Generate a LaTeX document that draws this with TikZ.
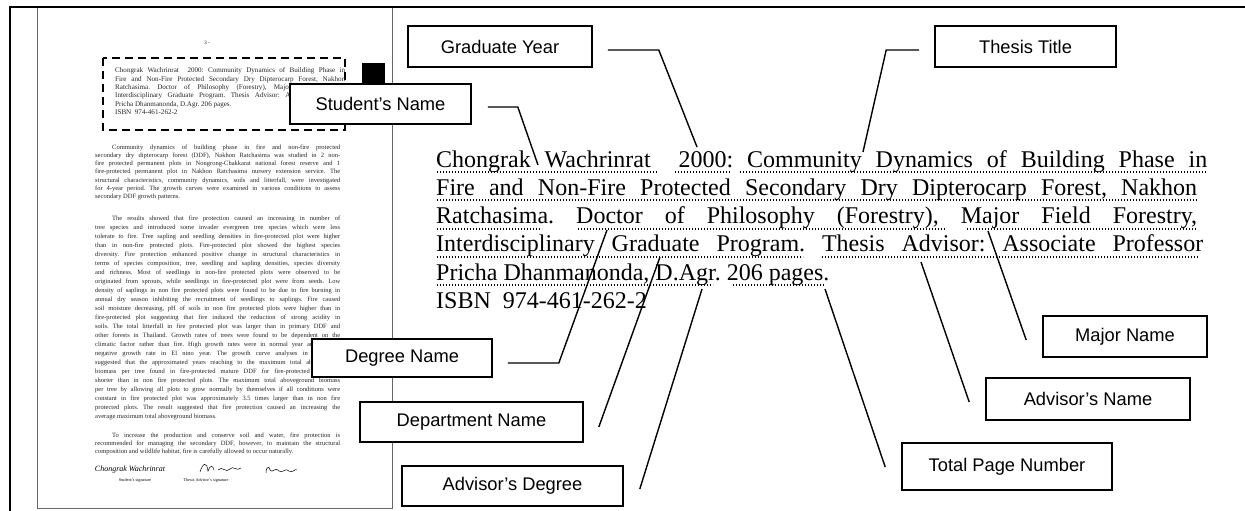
\documentclass[tikz,border=0pt]{standalone}
\usepackage{fontspec}
\setmainfont{Liberation Serif}
\newfontfamily\boxfont{Liberation Sans}
\usepackage{tikz}
\frenchspacing

\tikzset{
	fieldbox/.style={draw, fill=white, line width=1.6pt, inner sep=0pt, font=\boxfont\fontsize{18.3}{22}\selectfont},
	pointer/.style={line width=1.4pt},
	fieldline/.style={line width=1.2pt, dash pattern=on 1.1pt off 1.9pt},
	absline/.style={anchor=base west, inner sep=0pt, font=\fontsize{24}{28}\selectfont},
	pagetext/.style={anchor=base west, inner sep=0pt, align=justify, text width=245pt, text=black!85},
}

\begin{document}
\begin{tikzpicture}[x=1pt,y=1pt,yscale=-1,xscale=1]
	\useasboundingbox (0,0) rectangle (1245,511);
	
	%Shape: Rectangle [page]
	\draw [color=black!60, line width=1pt] (37,7) rectangle (392,508);
	%Straight Lines [frame]
	\draw [line width=2.5pt] (10,511) -- (10,7) -- (1245,7);
	%Shape: Rectangle [dashed abstract head]
	\draw [line width=1.6pt, dash pattern=on 8pt off 5pt] (103,58) rectangle (345,130);
	%Shape: Rectangle [black mark]
	\fill (362,63) rectangle (385,95);
	
	% Text Node
	\node (pgno) [inner sep=0pt, font=\fontsize{5}{6}\selectfont] at (207,43) {3 -};
	% Text Node
	\node (pghead) [pagetext, text width=230pt, font=\fontsize{7.1}{8.3}\selectfont] at (115,73) {Chongrak Wachrinrat\ \ 2000: Community Dynamics of Building Phase in\linebreak Fire and Non-Fire Protected Secondary Dry Dipterocarp Forest, Nakhon\linebreak Ratchasima. Doctor of Philosophy (Forestry), Major Field Forestry,\linebreak Interdisciplinary Graduate Program. Thesis Advisor: Associate Professor\linebreak Pricha Dhanmanonda, D.Agr. 206 pages.\newline ISBN\ \ 974-461-262-2};
	% Text Node
	\node (pgpara1) [pagetext, font=\fontsize{6.5}{8.33}\selectfont] at (95,149) {\hspace*{17pt}Community dynamics of building phase in fire and non-fire protected\linebreak secondary dry dipterocarp forest (DDF), Nakhon Ratchasima was studied in 2 non-\linebreak fire protected permanent plots in Nongrong-Chakkarat national forest reserve and 1\linebreak fire-protected permanent plot in Nakhon Ratchasima nursery extension service. The\linebreak structural characteristics, community dynamics, soils and litterfall, were investigated\linebreak for 4-year period. The growth curves were examined in various conditions to assess\linebreak secondary DDF growth patterns.};
	% Text Node
	\node (pgpara2) [pagetext, font=\fontsize{6.5}{9}\selectfont] at (95,220) {\hspace*{17pt}The results showed that fire protection caused an increasing in number of\linebreak tree species and introduced some invader evergreen tree species which were less\linebreak tolerate to fire. Tree sapling and seedling densities in fire-protected plot were higher\linebreak than in non-fire protected plots. Fire-protected plot showed the highest species\linebreak diversity. Fire protection enhanced positive change in structural characteristics in\linebreak terms of species composition, tree, seedling and sapling densities, species diversity\linebreak and richness. Most of seedlings in non-fire protected plots were observed to be\linebreak originated from sprouts, while seedlings in fire-protected plot were from seeds. Low\linebreak density of saplings in non fire protected plots were found to be due to fire burning in\linebreak annual dry season inhibiting the recruitment of seedlings to saplings. Fire caused\linebreak soil moisture decreasing, pH of soils in non fire protected plots were higher than in\linebreak fire-protected plot suggesting that fire induced the reduction of strong acidity in\linebreak soils. The total litterfall in fire protected plot was larger than in primary DDF and\linebreak other forests in Thailand. Growth rates of trees were found to be dependent on the\linebreak climatic factor rather than fire. High growth rates were in normal year and showed\linebreak negative growth rate in El nino year. The growth curve analyses in each plot\linebreak suggested that the approximated years reaching to the maximum total aboveground\linebreak biomass per tree found in fire-protected mature DDF for fire-protected plot was\linebreak shorter than in non fire protected plots. The maximum total aboveground biomass\linebreak per tree by allowing all plots to grow normally by themselves if all conditions were\linebreak constant in fire protected plot was approximately 3.5 times larger than in non fire\linebreak protected plots. The result suggested that fire protection caused an increasing the\linebreak average maximum total aboveground biomass.};
	% Text Node
	\node (pgpara3) [pagetext, font=\fontsize{6.5}{8.33}\selectfont] at (95,437) {\hspace*{17pt}To increase the production and conserve soil and water, fire protection is\linebreak recommended for managing the secondary DDF, however, to maintain the structural\linebreak composition and wildlife habitat, fire is carefully allowed to occur naturally.};
	% Text Node
	\node (stusig) [inner sep=0pt, font=\itshape\fontsize{8}{9}\selectfont] at (130,470) {Chongrak Wachrinrat};
	%Curve Lines [advisor signature]
	\draw [line width=0.5pt] (200,472) .. controls (203,462) and (207,462) .. (208,471) .. controls (210,465) and (213,465) .. (214,470);
	\draw [line width=0.5pt] (218,470) .. controls (222,465) and (226,474) .. (230,469) .. controls (233,465) and (237,472) .. (241,468);
	%Curve Lines [date]
	\draw [line width=0.5pt] (266,473) .. controls (266,466) and (270,466) .. (270,470) .. controls (272,474) and (276,466) .. (279,471) .. controls (282,474) and (286,467) .. (289,471) .. controls (292,474) and (295,468) .. (297,470);
	% Text Node
	\node (stulab) [inner sep=0pt, font=\fontsize{4.2}{5}\selectfont] at (135,480) {Student’s signature};
	% Text Node
	\node (advlab) [inner sep=0pt, font=\fontsize{4.2}{5}\selectfont] at (206,480) {Thesis Advisor’s signature};
	
	% Text Node
	\node (absline1) [absline] at (436,167) {\makebox[771pt][s]{Chongrak Wachrinrat\ \ 2000: Community Dynamics of Building Phase in}};
	% Text Node
	\node (absline2) [absline] at (436,195.3) {\makebox[761pt][s]{Fire and Non-Fire Protected Secondary Dry Dipterocarp Forest, Nakhon}};
	% Text Node
	\node (absline3) [absline] at (436,223.6) {\makebox[761pt][s]{Ratchasima. Doctor of Philosophy (Forestry), Major Field Forestry,}};
	% Text Node
	\node (absline4) [absline] at (436,251.9) {\makebox[767pt][s]{Interdisciplinary Graduate Program. Thesis Advisor: Associate Professor}};
	% Text Node
	\node (absline5) [absline] at (436,280.2) {Pricha Dhanmanonda, D.Agr. 206 pages.};
	% Text Node
	\node (absline6) [absline] at (436,308.5) {ISBN\ \ 974-461-262-2};
	
	%Straight Lines [dotted fields]
	\foreach \xa/\xb/\yy in {437/658/172, 675/730/172, 740/1207/172, 437/1197/200, 437/542/229, 578/945/229, 967/1197/229, 437/803/257, 822/1198/257, 437/713/285, 733/825/285}
		\draw [fieldline] (\xa,\yy) -- (\xb,\yy);
	
	% Text Node
	\node (gradyear) [fieldbox, minimum width=184pt, minimum height=41pt] at (500,46.5) {Graduate Year};
	% Text Node
	\node (title) [fieldbox, minimum width=181pt, minimum height=41pt] at (1025.5,46.5) {Thesis Title};
	% Text Node
	\node (student) [fieldbox, minimum width=181pt, minimum height=40pt] at (380.5,104) {Student’s Name};
	% Text Node
	\node (degree) [fieldbox, minimum width=180pt, minimum height=38pt] at (402,358) {Degree Name};
	% Text Node
	\node (dept) [fieldbox, minimum width=223pt, minimum height=40pt] at (471.5,422) {Department Name};
	% Text Node
	\node (advdeg) [fieldbox, minimum width=221pt, minimum height=40pt] at (512.5,486) {Advisor’s Degree};
	% Text Node
	\node (major) [fieldbox, minimum width=164pt, minimum height=41pt] at (1125,336.5) {Major Name};
	% Text Node
	\node (advname) [fieldbox, minimum width=204pt, minimum height=42pt] at (1088,399) {Advisor’s Name};
	% Text Node
	\node (pages) [fieldbox, minimum width=210pt, minimum height=47pt] at (1007,466.5) {Total Page Number};
	
	\coordinate (studentEnd) at (538,165);
	\coordinate (gradyearEnd) at (697,147);
	\coordinate (titleEnd) at (863,152);
	\coordinate (degreeEnd) at (607,230);
	\coordinate (deptEnd) at (660,257);
	\coordinate (advdegEnd) at (702,289);
	\coordinate (pagesEnd) at (825,289);
	\coordinate (advnameEnd) at (921,262);
	\coordinate (majorEnd) at (988,231);
	
	%Straight Lines
	\draw [pointer] (student.east) ++(16,3) -- ++(30,0) -- (studentEnd);
	%Straight Lines
	\draw [pointer] (gradyear.east) ++(15,3.5) -- ++(51,0) -- (gradyearEnd);
	%Straight Lines
	\draw [pointer] (title.west) ++(-15,3.5) -- ++(-33,0) -- (titleEnd);
	%Straight Lines
	\draw [pointer] (degree.east) ++(15,5) -- ++(51,0) -- (degreeEnd);
	%Straight Lines
	\draw [pointer] (dept.east) ++(15,5) -- (deptEnd);
	%Straight Lines
	\draw [pointer] (advdeg.east) ++(16,3) -- (advdegEnd);
	%Straight Lines
	\draw [pointer] (pages.west) ++(-16,0.5) -- (pagesEnd);
	%Straight Lines
	\draw [pointer] (advname.west) ++(-16,3) -- (advnameEnd);
	%Straight Lines
	\draw [pointer] (major.west) ++(-16,3.5) -- (majorEnd);
	
\end{tikzpicture}
\end{document}
